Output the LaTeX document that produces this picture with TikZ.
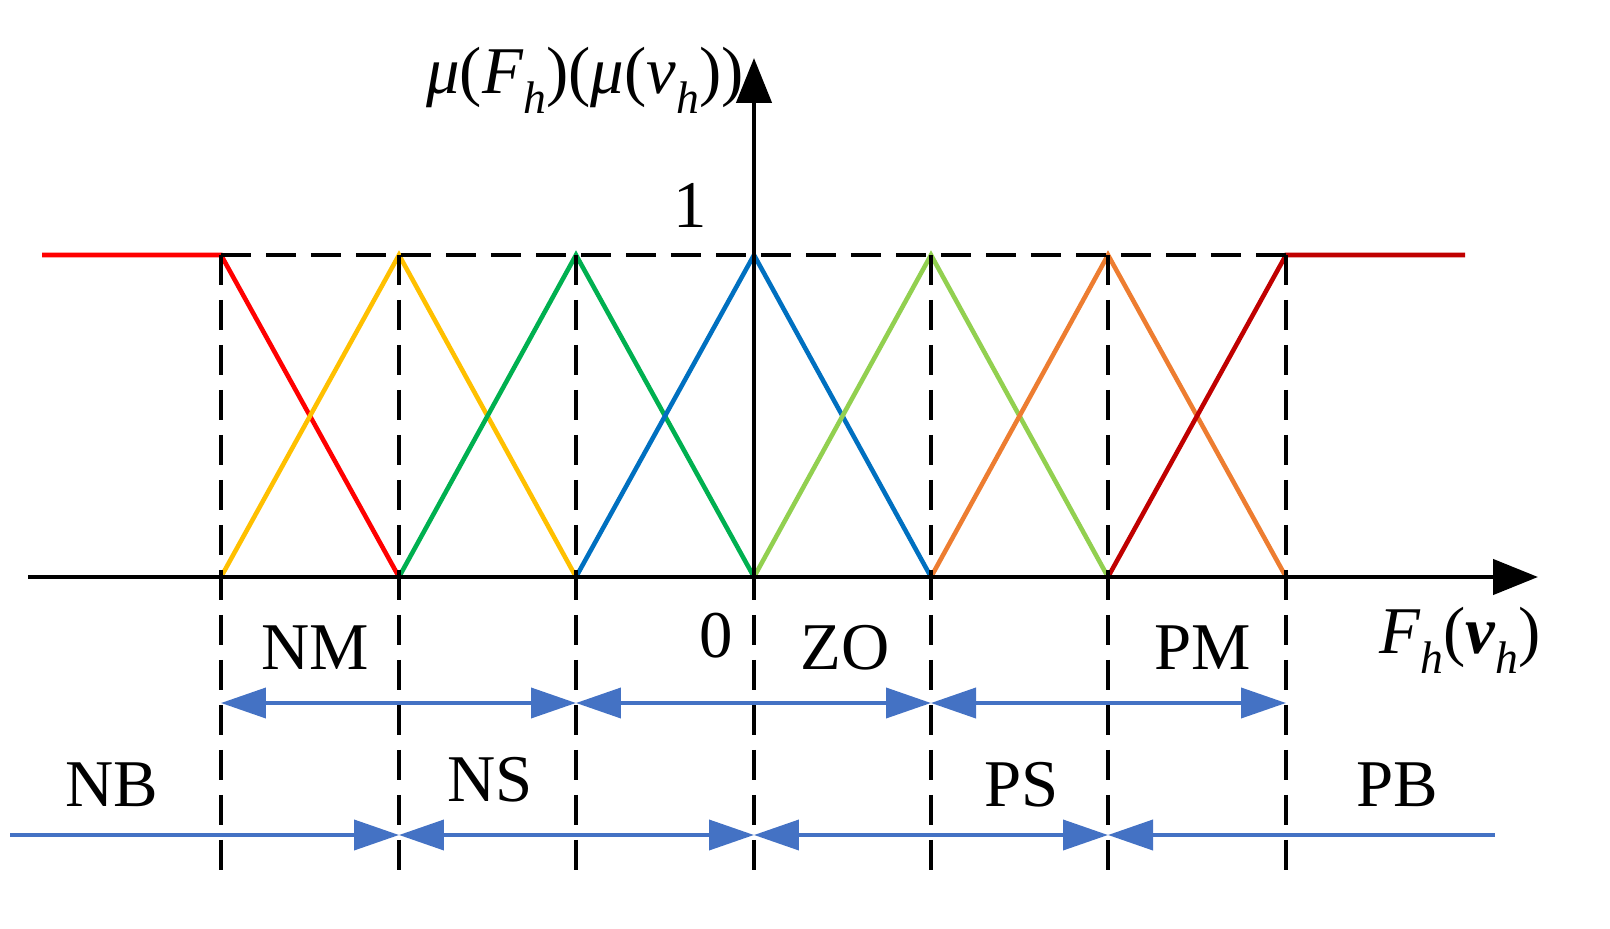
\documentclass[tikz,border=0pt]{standalone}
\usepackage{fontspec}
\setmainfont{Liberation Serif}
\usetikzlibrary{arrows.meta}
\definecolor{cNB}{RGB}{255,0,0}
\definecolor{cNM}{RGB}{255,192,0}
\definecolor{cNS}{RGB}{0,176,80}
\definecolor{cZO}{RGB}{0,112,192}
\definecolor{cPS}{RGB}{146,208,80}
\definecolor{cPM}{RGB}{237,125,49}
\definecolor{cPB}{RGB}{192,0,0}
\definecolor{arr}{RGB}{68,114,196}
\newcommand{\itx}[1]{\textit{#1}}
\newcommand{\subh}{\raisebox{-0.3em}{\fontsize{26}{28}\selectfont\textit{h}}}
\begin{document}
\begin{tikzpicture}[x=0.02cm,y=-0.02cm,
  >={Triangle[length=0.9cm,width=0.6cm]},
  mf/.style={line width=2.6pt},
  dsh/.style={line width=2.6pt,dash pattern=on 0.6cm off 0.3cm},
  ax/.style={line width=2.6pt,-{Triangle[length=0.9cm,width=0.7cm]}},
  ba/.style={arr,line width=2.2pt},
  lab/.style={font=\fontsize{38}{40}\selectfont,inner sep=0pt}]
\useasboundingbox (0,0) rectangle (1610,929);
\foreach \n/\x in {a/221,b/399,c/576,d/754,e/931,f/1108,g/1286}{
  \coordinate (\n0) at (\x,577);
  \coordinate (\n1) at (\x,255);
  \coordinate (\n2) at (\x,870);
  \coordinate (\n3) at (\x,703);
  \coordinate (\n4) at (\x,835);
}
\coordinate (L) at (42,255); \coordinate (R) at (1465,255);
\coordinate (xs) at (28,577); \coordinate (xe) at (1538,577);
\coordinate (ye) at (754,58);
\coordinate (l4) at (10,835); \coordinate (r4) at (1495,835);
\draw[mf,cNB] (L) -- (a1) -- (b0);
\draw[mf,cNM] (a0) -- (b1) -- (c0);
\draw[mf,cNS] (b0) -- (c1) -- (d0);
\draw[mf,cZO] (c0) -- (d1) -- (e0);
\draw[mf,cPS] (d0) -- (e1) -- (f0);
\draw[mf,cPM] (e0) -- (f1) -- (g0);
\draw[mf,cPB] (f0) -- (g1) -- (R);
\draw[dsh] (a1) -- (g1);
\foreach \n in {a,b,c,d,e,f,g}{\draw[dsh] (\n1) -- (\n2);}
\draw[ax] (xs) -- (xe);
\draw[ax] (d0) -- (ye);
\draw[ba,<->] (a3) -- (c3);
\draw[ba,<->] (c3) -- (e3);
\draw[ba,<->] (e3) -- (g3);
\draw[ba,->] (l4) -- (b4);
\draw[ba,<->] (b4) -- (d4);
\draw[ba,<->] (d4) -- (f4);
\draw[ba,<-] (f4) -- (r4);
\node[lab] (nm) at (315,648) {NM};
\node[lab] (zero) at (716,636) {0};
\node[lab] (zo) at (845,648) {ZO};
\node[lab] (pm) at (1203,648) {PM};
\node[lab] (nb) at (112,785) {NB};
\node[lab] (ns) at (490,780) {NS};
\node[lab] (ps) at (1022,785) {PS};
\node[lab] (pb) at (1397,785) {PB};
\node[lab] (one) at (690,205) {1};
\node[lab] (ylab) at (585,80) {\itx{μ}(\itx{F}\subh)(\itx{μ}(\itx{v}\subh))};
\node[lab] (xlab) at (1460,640) {\itx{F}\subh(\textbf{\textit{v}}\subh)};
\end{tikzpicture}
\end{document}
